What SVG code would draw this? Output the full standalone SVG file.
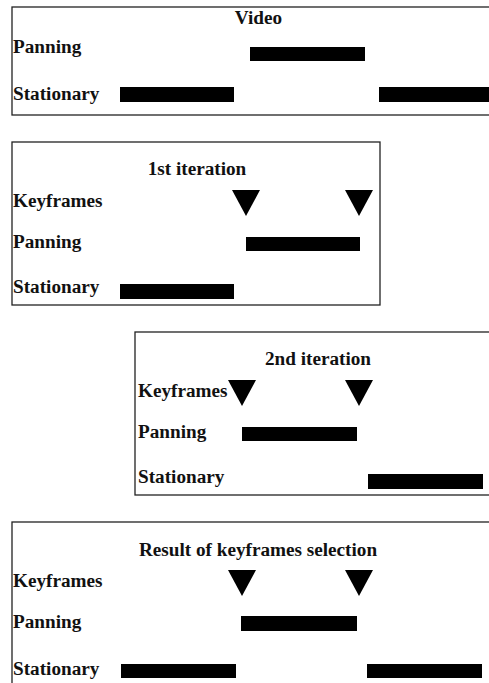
<svg xmlns="http://www.w3.org/2000/svg" width="489" height="683" viewBox="0 0 489 683">
  <style>
    .frame { fill: #ffffff; stroke: #222222; stroke-width: 1.3; }
    .bar { fill: #000000; }
    .key { fill: #000000; }
    text { font-family: "Liberation Serif", "Times New Roman", serif; font-weight: bold; font-size: 19.2px; fill: #111111; }
    .title { text-anchor: middle; }
  </style>
  <defs>
    <!-- keyframe marker: downward triangle, apex at origin -->
    <polygon id="kf" points="-14,-26 14,-26 0,0"/>
  </defs>
  <rect width="489" height="683" fill="#ffffff"/>

  <!-- Video timeline -->
  <g id="panel-video">
    <rect class="frame" x="12" y="7" width="490" height="108"/>
    <text class="title" x="258.5" y="24">Video</text>
    <text x="13" y="53">Panning</text>
    <text x="13" y="100">Stationary</text>
    <rect class="bar" x="250" y="47" width="115" height="14"/>
    <rect class="bar" x="120" y="87" width="114" height="15"/>
    <rect class="bar" x="379" y="87" width="115" height="15"/>
  </g>

  <!-- first iteration -->
  <g id="panel-iter1">
    <rect class="frame" x="12" y="142" width="368" height="163"/>
    <text class="title" x="197" y="175">1st iteration</text>
    <text x="13" y="207">Keyframes</text>
    <text x="13" y="248">Panning</text>
    <text x="13" y="293">Stationary</text>
    <use href="#kf" class="key" x="246" y="216"/>
    <use href="#kf" class="key" x="359" y="216"/>
    <rect class="bar" x="246" y="237" width="114" height="14"/>
    <rect class="bar" x="120" y="284" width="114" height="15"/>
  </g>

  <!-- second iteration -->
  <g id="panel-iter2">
    <rect class="frame" x="135" y="332" width="367" height="163"/>
    <text class="title" x="318" y="365">2nd iteration</text>
    <text x="138" y="397">Keyframes</text>
    <text x="138" y="438">Panning</text>
    <text x="138" y="483">Stationary</text>
    <use href="#kf" class="key" x="242" y="406"/>
    <use href="#kf" class="key" x="359" y="406"/>
    <rect class="bar" x="242" y="427" width="115" height="14"/>
    <rect class="bar" x="368" y="474" width="115" height="15"/>
  </g>

  <!-- result of keyframe selection -->
  <g id="panel-result">
    <rect class="frame" x="12" y="522" width="490" height="170"/>
    <text class="title" x="258" y="556">Result of keyframes selection</text>
    <text x="13" y="587">Keyframes</text>
    <text x="13" y="628">Panning</text>
    <text x="13" y="675">Stationary</text>
    <use href="#kf" class="key" x="242" y="596"/>
    <use href="#kf" class="key" x="359" y="596"/>
    <rect class="bar" x="241" y="616" width="116" height="15"/>
    <rect class="bar" x="121" y="664" width="115" height="14"/>
    <rect class="bar" x="367" y="664" width="115" height="14"/>
  </g>

  <!-- no connectors in this figure -->
  <g id="connectors"/>
</svg>
